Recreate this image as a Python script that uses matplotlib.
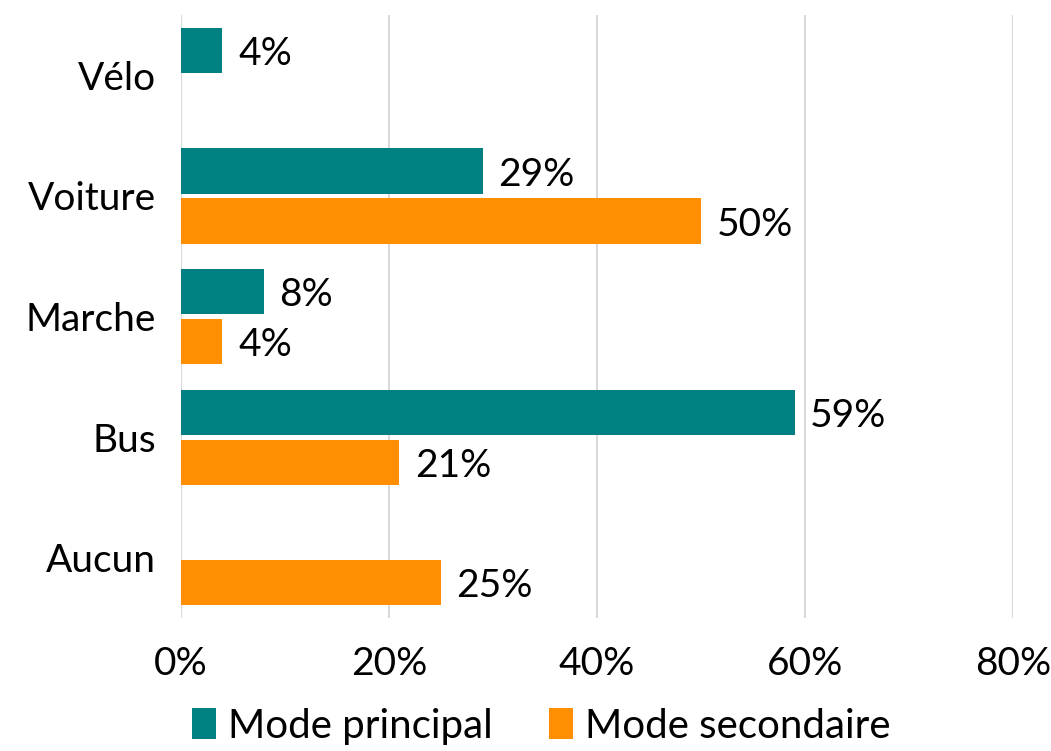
import matplotlib
matplotlib.use("Agg")
import matplotlib.pyplot as plt
import numpy as np

# data, top to bottom
categories = ["Vélo", "Voiture", "Marche", "Bus", "Aucun"]
principal = [4, 29, 8, 59, 0]
secondaire = [0, 50, 4, 21, 25]
series_names = ["Mode principal", "Mode secondaire"]
xticks = [0, 20, 40, 60, 80]

teal = "#008080"
orange = "#FF8F00"

plt.rcParams['font.family'] = ['Lato', 'DejaVu Sans']
fs = 28

fig = plt.figure(figsize=(10.51, 7.51), dpi=100)
ax = fig.add_axes([0.172, 0.177, 0.792, 0.803])

y = np.arange(len(categories))
h = 0.375
off = 0.207

for vals, sign, col, name in [(principal, -1, teal, series_names[0]),
                              (secondaire, 1, orange, series_names[1])]:
    bars = ax.barh(y + sign * off, vals, height=h, color=col, label=name)
    for b, v in zip(bars, vals):
        if v > 0:
            ax.text(v + 1.5, b.get_y() + b.get_height() / 2 + 0.03, f"{v}%",
                    va="center", ha="left", fontsize=fs, color="black")

ax.set_ylim(len(categories) - 0.5, -0.5)
ax.set_xlim(0, 80)
ax.set_xticks(xticks)
ax.set_xticklabels([f"{t}%" for t in xticks], fontsize=fs)
ax.set_yticks(y)
ax.set_yticklabels(categories, fontsize=fs)
ax.tick_params(axis="y", length=0, pad=18)
ax.tick_params(axis="x", length=0, pad=20)
ax.xaxis.grid(True, color="#D9D9D9", linewidth=1.5)
ax.set_axisbelow(True)
for s in ax.spines.values():
    s.set_visible(False)

fig.legend(loc="lower center", bbox_to_anchor=(0.515, -0.04), ncol=2, frameon=False,
           fontsize=fs + 1, handlelength=0.6, handleheight=0.8, handletextpad=0.3,
           columnspacing=1.4)

fig.savefig("out.png", dpi=100)
